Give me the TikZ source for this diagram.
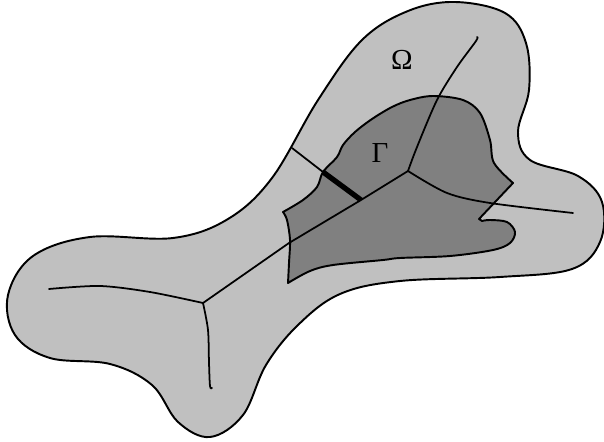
\documentclass[tikz,border=0pt]{standalone}
\usepackage{fontspec}
\newfontfamily\labelfont{Liberation Serif}
\usepackage{tikz}
\usetikzlibrary{calc}
\usepackage{xcolor}
\definecolor{omegagray}{HTML}{C0C0C0}
\definecolor{gammagray}{HTML}{808080}

\begin{document}
\begin{tikzpicture}[
    x=0.02cm, y=-0.02cm,
    region/.style={draw, line width=1.1pt, line join=round},
    branch/.style={draw, line width=1pt, line cap=round},
    cutthick/.style={draw, line width=3pt},
    every node/.style={font=\labelfont\fontsize{16.5}{19}\selectfont}
]
\useasboundingbox (0,0) rectangle (604,442);

% Domain Omega
\path[region, fill=omegagray] plot[smooth cycle, tension=0.6] coordinates {
    (455,2) (505,13) (526,43) (529,90) (518,132) (530,160) (578,176)
    (602,202) (600,242) (572,269) (500,277) (400,281) (340,294) (298,325)
    (266,365) (243,415) (210,437) (178,422) (152,385) (110,364) (50,358)
    (15,335) (8,295) (33,256) (90,237) (173,238) (228,219) (272,178)
    (318,100) (362,40) (408,11)};

% Subdomain Gamma
\path[region, fill=gammagray]
    plot[smooth, tension=0.55] coordinates {
    (283,212) (303,200) (317,187) (323,172) (337,157) (343,145) (355,132)
    (372,119) (392,107) (410,100) (433,96) (463,100) (480,113) (490,140)
    (494,163) (513,183)}
    -- (479,219) -- (482,221)
    -- plot[smooth, tension=0.55] coordinates {
    (482,221) (490,220) (507,222) (515,232) (510,243) (493,250) (450,256)
    (400,258) (383,260) (333,265) (310,271) (288,283)}
    -- plot[smooth, tension=0.55] coordinates {
    (288,283) (289,263) (290,240) (287,220) (283,212)}
    -- cycle;

% Junctions and branch ends
\coordinate (jl) at (203,303);
\coordinate (jr) at (408,171);
\coordinate (cuttop) at (292,148);
\coordinate (cutmid) at (323,172);
\coordinate (cutend) at (361,200);

% Branches
\path[branch] plot[smooth] coordinates {(49,289) (100,286) (150,292) (203,303)};
\path[branch] plot[smooth] coordinates {(203,303) (208,330) (209,363) (210,386) (212,388)};
\path[branch] (jl) -- (289,243) -- (cutend) -- (jr);
\path[branch] plot[smooth] coordinates {(408,171) (417,147) (437,100) (457,67) (476,41) (477,37)};
\path[branch] plot[smooth] coordinates {(408,171) (447,193) (490,203) (573,213)};

% Cut
\path[branch] (cuttop) -- (cutmid);
\path[cutthick] (cutmid) -- (cutend);

% Labels
\node (omega) at (402,60) {Ω};
\node (gamma) at (380,153) {Γ};

\end{tikzpicture}
\end{document}
